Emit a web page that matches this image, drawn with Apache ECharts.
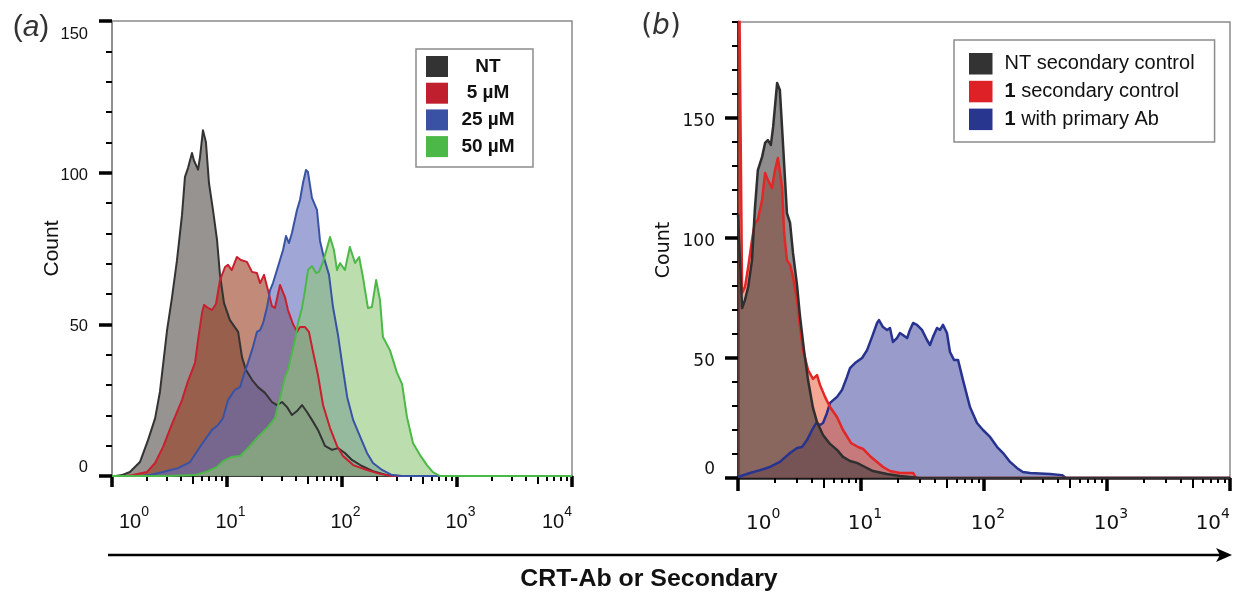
<!DOCTYPE html>
<html><head><meta charset="utf-8">
<script src="https://cdn.jsdelivr.net/npm/echarts@6/dist/echarts.min.js"></script>
<style>html,body{margin:0;padding:0;background:#fff}#c{width:1236px;height:598px}</style>
</head><body><div id="c"></div>
<script>
// ---- tick values ----
const majorTicksX = [1, 10, 100, 1000, 10000];
const midTicksX = [5, 50, 500, 5000];
const minorTicksX = [2,3,4,6,7,8,9,20,30,40,60,70,80,90,200,300,400,600,700,800,900,2000,3000,4000,6000,7000,8000,9000];
const yMajorA = [0, 50, 100, 150];
const yMinorA = [10,20,30,40,60,70,80,90,110,120,130,140];
const yMajorB = [0, 50, 100, 150];
const yMinorB = [10,20,30,40,60,70,80,90,110,120,130,140,160,170,180,190];

// ---- panel (a) ----
const namesA = ['NT', '5 µM', '25 µM', '50 µM'];
const ntA_x = [1.08,1.22,1.43,1.75,2.06,2.37,2.61,2.78,3.01,3.32,3.67,4.06,4.31,4.58,4.96,5.16,5.6,5.82,6.18,6.56,6.97,7.55,8.19,8.69,9.42,10.6,12.5,13.5,14.6,16.5,18.6,21.4,24.6,27.2,30.1,33.3,36.7,40.6,44.9,49.6,54.8,61.8,71.1,81.9,92.3,106,122,149,186,246,316,10000];
const ntA_y = [0,0.3,1.3,4.6,11.9,19,27.7,36.6,48,58.7,71,86,98.6,101.5,106.5,104,101,105,114,110,96.6,87.7,77.8,66.3,57,51.4,47.5,39.2,35,31.7,29.3,27.4,24.4,23.4,24.4,22.7,20.1,21.4,23.4,21.1,18.5,15.2,9.9,8.6,9.2,7.6,5.3,3.3,1.6,0.3,0,0];
const redA_x = [1.30,1.52,2.01,2.37,2.78,3.32,4.06,4.58,5.27,5.60,6.06,6.31,6.84,7.41,8.02,8.69,9.61,10.2,11.0,12.2,13.2,14.9,16.5,18.2,19.4,21.0,22.7,24.6,26.1,28.9,31.9,33.9,37.5,40.6,43.1,47.7,51.6,56.0,61.8,68.4,78.7,90.5,102,125,165,214,272,10000];
const redA_y = [0,0.3,1.3,4.3,9.6,17.1,25,31.3,37.3,44.8,53.7,56.4,55.4,54.7,56.7,64.6,68.9,69.6,67.9,72.2,71.2,70.6,67.3,66.9,63.6,66.3,61.3,56,55.4,63,59,54.7,50.1,47.5,49.1,49.1,47.5,40.9,33.3,23.4,15.8,9.9,6.6,3.6,2.0,0.7,0,0];
const blueA_x = [1.75,2.14,2.78,3.75,4.77,6.06,7.41,8.35,9.23,10.2,11.7,13.0,13.8,15.2,16.8,18.2,19.4,20.6,22.3,23.7,25.1,27.2,28.9,30.7,32.6,34.6,36.7,40.6,43.1,45.8,48.6,50.6,54.8,60.6,64.4,69.7,77.1,83.5,92.3,100,111,125,144,165,186,223,272,333,10000];
const blueA_y = [0,0.3,1.3,2.6,4.6,10.6,15.2,16.8,19.1,25,28.4,29.3,32.6,37.3,42.5,47.5,48.1,50.4,55.7,61.3,63.6,67.9,71.2,74.5,79.1,76.8,80.1,87.7,91,96.6,100.9,100.2,91.7,87.7,77.5,71.9,66.3,55.7,46.5,37.3,26,18.5,12.9,7.6,4.3,2.0,0.3,0,0];
const greenA_x = [1,3.07,5.27,6.84,8.19,9.23,11.0,13.0,15.2,18.6,22.7,26.1,28.9,31.9,33.9,36.7,39.0,41.4,44.9,47.7,50.6,54.8,59.4,63.1,68.4,74.1,78.7,85.1,90.5,96.1,106,117,130,141,152,168,182,198,214,227,261,301,333,367,414,477,548,618,711,10000];
const greenA_y = [0,0,0.3,1.6,3.0,4.9,6.3,6.6,9.2,12.9,16.2,19.1,25.7,32.6,34.9,40.6,44.8,50.4,55.4,61.3,67.9,69.2,66.9,67.3,70.6,75.2,78.8,74.5,67.9,70.2,67.9,75.5,70.2,72.2,65.6,55.4,55.7,64.6,58,45.8,41.5,34,30.3,19.5,10.9,6.9,3.6,1.3,0,0];

// ---- panel (b) ----
const namesB = ['NT secondary control', '1 secondary control', '1 with primary Ab'];
const ntB_x = [1,1.08,1.14,1.21,1.30,1.37,1.45,1.57,1.66,1.75,1.85,1.93,2.08,2.19,2.32,2.50,2.65,2.80,3.02,3.19,3.44,3.71,4.07,4.39,4.91,5.60,6.38,7.14,8.14,9.28,10.4,12.5,16.3,20.7,30.2,10000];
const ntB_y = [110,70.8,74.2,79.6,90.8,111.7,128.3,133.8,139.6,140.8,138.8,146.3,164.6,161.7,139.6,110.4,106.3,93.8,80.4,67.5,53.3,40.8,29.2,23.3,17.9,14.2,11.7,8.8,7.1,6.3,5.0,2.9,1.7,0.8,0,0];
const redB_x = [1,1.08,1.14,1.21,1.30,1.37,1.45,1.57,1.66,1.75,1.89,2.0,2.11,2.28,2.37,2.50,2.65,2.80,3.02,3.19,3.38,3.71,4.07,4.39,4.64,5.10,5.60,6.38,7.14,8.29,9.46,10.4,11.8,13.5,15.1,17.2,20.7,26.5,28.0,10000];
const redB_y = [260,77.1,79.6,87.9,99.2,106.3,107.5,115.8,127.1,124.2,120.8,128.3,133.3,121.3,102.1,90.8,88.8,83.8,74.2,62.9,53.3,45,41.3,42.9,38.8,33.8,29.6,25.4,20,14.6,12.9,12.1,9.2,6.7,4.6,2.9,2.1,2.1,0,0];
const blueB_x = [1,1.25,1.51,1.82,2.19,2.65,3.02,3.31,3.64,4.0,4.31,4.64,4.91,5.29,5.60,6.38,7.01,7.69,8.14,8.94,10.2,11.2,12.3,13.5,14.0,15.1,16.3,17.2,18.2,19.6,20.7,21.9,23.7,25.0,26.5,28.5,31.3,34.4,36.4,38.5,41.5,43.9,46.4,50.0,52.9,57.0,61.5,67.5,76.9,87.7,98.2,112,128,143,163,185,207,237,344,431,464,10000];
const blueB_y = [0.4,2.1,3.3,4.6,6.7,10.4,12.5,12.9,15.8,20,22.9,22.1,22.9,27.1,31.3,33.8,36.7,42.1,45.8,47.9,50,53.3,58.8,64.6,65.8,62.9,61.7,62.5,56.7,58.3,60.4,59.6,58.3,61.7,64.6,63.8,61.7,57.5,55.4,58.8,62.5,61.7,63.8,60.4,52.5,49.2,49.2,40.8,29.6,22.9,20,17.1,12.9,10.4,6.7,4.2,2.5,2.1,1.7,1.2,0,0];

// ---- build ----
const FA = '"Liberation Sans", Arial, sans-serif';
const FB = '"DejaVu Sans", sans-serif';
function pairs(xs, ys) { return xs.map((x, i) => [x, ys[i]]); }
function supLabel(v) { return '{b|10}{s|' + Math.round(Math.log10(v)) + '}'; }

function xAxesFor(g, font, lineW, majorLen, margin, supPad) {
  const base = { gridIndex: g, type: 'log', logBase: 10, min: 1, max: 10000, position: 'bottom',
    splitLine: { show: false }, minorTick: { show: false }, minorSplitLine: { show: false } };
  return [
    Object.assign({}, base, {
      axisLine: { show: true, lineStyle: { color: '#1a1a1a', width: lineW } },
      axisTick: { show: true, length: majorLen, customValues: majorTicksX, lineStyle: { color: '#000', width: 3.5 } },
      axisLabel: { show: true, customValues: majorTicksX, margin: margin, formatter: supLabel,
        alignMinLabel: 'left', alignMaxLabel: 'right', hideOverlap: false, padding: [0, 0, 0, supPad],
        rich: {
          b: { fontSize: 20, fontFamily: font, color: '#111', lineHeight: 27, verticalAlign: 'bottom' },
          s: { fontSize: 14, fontFamily: font, color: '#111', lineHeight: 8, verticalAlign: 'top' }
        } }
    }),
    Object.assign({}, base, {
      axisLine: { show: false }, axisLabel: { show: false },
      axisTick: { show: true, length: majorLen - 3, customValues: midTicksX, lineStyle: { color: '#000', width: 2 } }
    }),
    Object.assign({}, base, {
      axisLine: { show: false }, axisLabel: { show: false },
      axisTick: { show: true, length: 5, customValues: minorTicksX, lineStyle: { color: '#000', width: 2 } }
    })
  ];
}

function yAxesFor(g, max, majors, minors, font, lineColor, lineW, labelSize, margin, nameGap, nameSize, topAlign, padTop) {
  const base = { gridIndex: g, type: 'value', min: 0, max: max, position: 'left', splitLine: { show: false } };
  const lab = { show: true, customValues: majors, margin: margin, color: '#111',
    verticalAlignMinLabel: 'bottom', hideOverlap: false,
    formatter: v => '{v|' + v + '}',
    rich: { v: { fontSize: labelSize, fontFamily: font, color: '#111', padding: [padTop, 0, 0, 0] } } };
  if (topAlign) lab.verticalAlignMaxLabel = 'top';
  return [
    Object.assign({}, base, {
      axisLine: { show: true, lineStyle: { color: lineColor, width: lineW } },
      axisTick: { show: true, length: 13, customValues: majors, lineStyle: { color: '#000', width: 3.5 } },
      axisLabel: lab,
      name: 'Count', nameLocation: 'middle', nameGap: nameGap, nameRotate: 90, nameMoveOverlap: false,
      nameTextStyle: { fontSize: nameSize, fontFamily: font, color: '#111' }
    }),
    Object.assign({}, base, {
      axisLine: { show: false }, axisLabel: { show: false },
      axisTick: { show: true, length: 6, customValues: minors, lineStyle: { color: '#000', width: 2 } }
    })
  ];
}

function area(name, xs, ys, xi, yi, lineColor, lineW, fill, iconColor) {
  return { name: name, type: 'line', xAxisIndex: xi, yAxisIndex: yi, data: pairs(xs, ys),
    symbol: 'none', showSymbol: false, smooth: false, clip: true, silent: true,
    lineStyle: { color: lineColor, width: lineW, join: 'round' },
    itemStyle: { color: iconColor },
    areaStyle: { color: fill, opacity: 1 },
    emphasis: { disabled: true } };
}

const option = {
  animation: false,
  backgroundColor: '#fff',
  grid: [
    { left: 112, top: 21, width: 460, height: 455, show: true, borderColor: '#8a8a8a', borderWidth: 1.5, backgroundColor: 'transparent', outerBoundsMode: 'none' },
    { left: 738, top: 22, width: 492, height: 456, show: true, borderColor: '#8a8a8a', borderWidth: 1.5, backgroundColor: 'transparent', outerBoundsMode: 'none' }
  ],
  xAxis: [].concat(xAxesFor(0, FA, 1.5, 11, 29, 7), xAxesFor(1, FB, 2.5, 13, 29, 8)),
  yAxis: [].concat(
    yAxesFor(0, 150, yMajorA, yMinorA, FA, '#8a8a8a', 1.5, 16.5, 24, 49, 21, true, 5),
    yAxesFor(1, 190, yMajorB, yMinorB, FB, '#111', 2.5, 17, 23, 64, 19, false, 7)
  ),
  legend: [
    { data: namesA, orient: 'vertical', left: 416, top: 49, padding: [7, 10, 10, 10],
      borderColor: '#8c8c8c', borderWidth: 1.5, backgroundColor: '#fff',
      itemWidth: 22, itemHeight: 21, itemGap: 5.7, icon: 'rect', selectedMode: false,
      itemStyle: { borderWidth: 0 },
      formatter: n => '{c|' + n + '}',
      textStyle: { rich: { c: { width: 70, align: 'center', fontWeight: 'bold', fontSize: 19, fontFamily: FA, color: '#111', lineHeight: 21 } } } },
    { data: namesB, orient: 'vertical', left: 954, top: 40, padding: [13, 20, 12, 15],
      borderColor: '#8c8c8c', borderWidth: 1.5, backgroundColor: '#fff',
      itemWidth: 23.5, itemHeight: 21.5, itemGap: 6.3, icon: 'rect', selectedMode: false,
      itemStyle: { borderWidth: 0 },
      formatter: n => n.charAt(0) === '1' ? '{b|1}{n|' + n.slice(1) + '}' : '{n|' + n + '}',
      textStyle: { padding: [0, 0, 0, 7], rich: {
        b: { fontWeight: 'bold', fontSize: 20, fontFamily: FA, color: '#111', lineHeight: 22 },
        n: { fontSize: 20, fontFamily: FA, color: '#111', lineHeight: 22 } } } }
  ],
  series: [
    area(namesA[0], ntA_x, ntA_y, 0, 0, '#333333', 2, 'rgba(82,75,72,0.6)', '#333333'),
    area(namesA[1], redA_x, redA_y, 0, 0, '#c8202f', 2, 'rgba(153,60,30,0.6)', '#c0202e'),
    area(namesA[2], blueA_x, blueA_y, 0, 0, '#3953a4', 2, 'rgba(97,107,185,0.6)', '#3a52a3'),
    area(namesA[3], greenA_x, greenA_y, 0, 0, '#4cb848', 2, 'rgba(143,200,122,0.6)', '#4cb848'),
    area(namesB[2], blueB_x, blueB_y, 3, 2, '#27338f', 2.5, 'rgba(70,72,160,0.55)', '#29368f'),
    area(namesB[1], redB_x, redB_y, 3, 2, '#e32626', 2.5, 'rgba(235,95,60,0.55)', '#dd2126'),
    area(namesB[0], ntB_x, ntB_y, 3, 2, '#2f2f2f', 2.5, 'rgba(60,56,56,0.58)', '#333333')
  ],
  graphic: [
    { type: 'text', x: 31, y: 28, style: { text: '{p|(}{i|a}{p|)}', align: 'center', verticalAlign: 'middle', textAlign: 'center', textVerticalAlign: 'middle',
      rich: { p: { fontSize: 30, fontFamily: FA, fill: '#333', color: '#333' }, i: { fontSize: 30, fontFamily: FA, fontStyle: 'italic', fill: '#333', color: '#333' } } } },
    { type: 'text', x: 661, y: 27, style: { text: '{p|(}{i|b}{p|)}', align: 'center', verticalAlign: 'middle', textAlign: 'center', textVerticalAlign: 'middle',
      rich: { p: { fontSize: 28, fontFamily: FB, fill: '#333', color: '#333' }, i: { fontSize: 28, fontFamily: FB, fontStyle: 'italic', fill: '#333', color: '#333' } } } },
    { type: 'line', shape: { x1: 108, y1: 555, x2: 1220, y2: 555 }, style: { stroke: '#000', lineWidth: 2.5 } },
    { type: 'polygon', shape: { points: [[1232, 555], [1216, 548], [1220, 555], [1216, 562]] }, style: { fill: '#000' } },
    { type: 'text', x: 649, y: 580, scaleX: 1.06, style: { text: 'CRT-Ab or Secondary', font: 'bold 23.5px "Liberation Sans", Arial, sans-serif',
      fill: '#111', align: 'center', verticalAlign: 'middle', textAlign: 'center', textVerticalAlign: 'middle' } }
  ]
};
const chart = echarts.init(document.getElementById('c'), null, { renderer: 'canvas' });
chart.setOption(option);
</script></body></html>
